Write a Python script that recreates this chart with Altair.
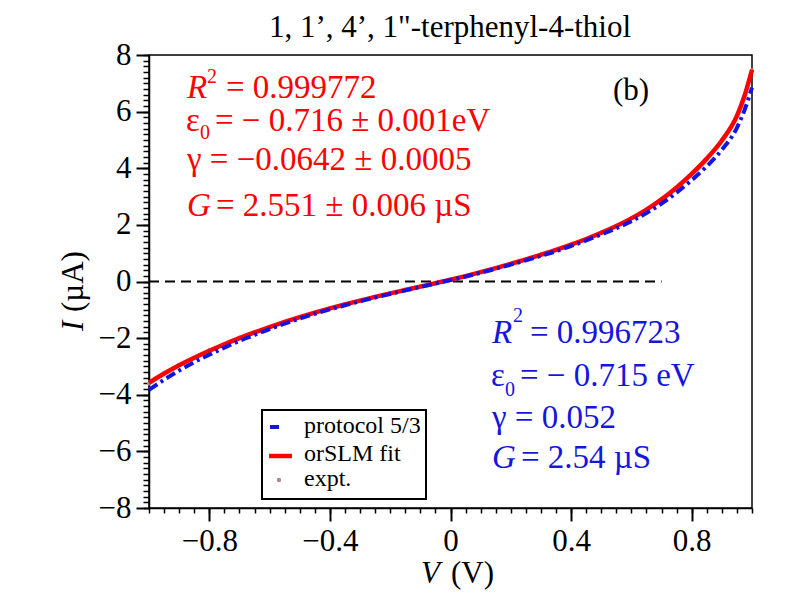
import altair as alt
import pandas as pd

FONT = "Liberation Serif"
RED = "#ff0000"
BLUE = "#1515dd"

# ---------------- data ----------------
V = [-1.0, -0.95, -0.9, -0.85, -0.8, -0.75, -0.7, -0.65, -0.6, -0.55, -0.5,
     -0.45, -0.4, -0.35, -0.3, -0.25, -0.2, -0.15, -0.1, -0.05, 0.0,
     0.05, 0.1, 0.15, 0.2, 0.25, 0.3, 0.35, 0.4, 0.45, 0.5,
     0.55, 0.6, 0.65, 0.7, 0.75, 0.8, 0.85, 0.9, 0.95, 0.975, 1.0]

I_fit = [-3.58, -3.25, -2.955, -2.69, -2.445, -2.215, -2.00, -1.80, -1.61, -1.43, -1.26,
         -1.10, -0.95, -0.81, -0.675, -0.545, -0.42, -0.30, -0.18, -0.06, 0.06,
         0.19, 0.33, 0.475, 0.625, 0.78, 0.945, 1.115, 1.30, 1.50, 1.72,
         1.96, 2.23, 2.54, 2.90, 3.32, 3.80, 4.34, 4.98, 5.85, 6.55, 7.48]

I_proto = [-3.83, -3.47, -3.145, -2.85, -2.585, -2.335, -2.10, -1.89, -1.68, -1.49, -1.31,
           -1.14, -0.985, -0.84, -0.70, -0.565, -0.44, -0.315, -0.195, -0.07, 0.05,
           0.175, 0.31, 0.45, 0.595, 0.745, 0.905, 1.07, 1.255, 1.45, 1.66,
           1.88, 2.13, 2.42, 2.75, 3.14, 3.58, 4.07, 4.65, 5.43, 6.05, 6.85]

I_expt = [-3.60, -3.26, -2.94, -2.70, -2.43, -2.22, -1.98, -1.81, -1.60, -1.44, -1.25,
          -1.11, -0.94, -0.82, -0.67, -0.55, -0.41, -0.31, -0.17, -0.07, 0.07,
          0.18, 0.34, 0.47, 0.63, 0.77, 0.95, 1.11, 1.31, 1.49, 1.73,
          1.95, 2.24, 2.53, 2.91, 3.31, 3.81, 4.33, 4.99, 5.84, 6.53, 7.46]

zero_v = [-1.0, 0.7]
zero_i = [0.0, 0.0]

x_major = [-0.8, -0.4, 0.0, 0.4, 0.8]
x_minor = [round(-1.0 + 0.05 * k, 2) for k in range(41)]
y_major = [-8, -6, -4, -2, 0, 2, 4, 6, 8]
y_minor = [round(-8.0 + 0.2 * k, 1) for k in range(81)]

title_text = "1, 1\u2019, 4\u2019, 1\"-terphenyl-4-thiol"

df = pd.DataFrame({"V": V, "fit": I_fit, "proto": I_proto, "expt": I_expt})
zdf = pd.DataFrame({"V": zero_v, "I": zero_i})

W, H = 603, 453
xs = alt.Scale(domain=[-1, 1], nice=False, zero=False)
ys = alt.Scale(domain=[-8, 8], nice=False, zero=False)

major_x_axis = alt.Axis(values=x_major, orient="bottom", title=None, grid=False,
                        labelExpr="datum.value == 0 ? '0' : format(datum.value, '.1f')",
                        tickSize=13, tickWidth=2, labelPadding=5)
major_y_axis = alt.Axis(values=y_major, orient="left", title=None, grid=False, format="d",
                        tickSize=13, tickWidth=2, labelPadding=5)
minor_x_axis = alt.Axis(values=x_minor, orient="bottom", title=None, grid=False,
                        labels=False, domain=False, tickSize=5, tickWidth=1.5)
minor_y_axis = alt.Axis(values=y_minor, orient="left", title=None, grid=False,
                        labels=False, domain=False, tickSize=6, tickWidth=1.5)

base = alt.Chart(df)

zero_line = alt.Chart(zdf).mark_line(color="black", strokeWidth=2, strokeDash=[10, 6]).encode(
    x=alt.X("V:Q", scale=xs, axis=None), y=alt.Y("I:Q", scale=ys, axis=None))

expt_pts = base.mark_point(filled=True, size=16, color="#b08c8c", opacity=1).encode(
    x=alt.X("V:Q", scale=xs, axis=None), y=alt.Y("expt:Q", scale=ys, axis=None))

fit_line = base.mark_line(color=RED, strokeWidth=4.5, interpolate="monotone").encode(
    x=alt.X("V:Q", scale=xs, axis=major_x_axis), y=alt.Y("fit:Q", scale=ys, axis=major_y_axis))

proto_line = base.mark_line(color=BLUE, strokeWidth=4, strokeDash=[10, 4, 3, 4],
                            interpolate="monotone").encode(
    x=alt.X("V:Q", scale=xs, axis=None), y=alt.Y("proto:Q", scale=ys, axis=None))

minor_layer = base.mark_line(opacity=0).encode(
    x=alt.X("V:Q", scale=xs, axis=minor_x_axis), y=alt.Y("fit:Q", scale=ys, axis=minor_y_axis))


def txt(s, x, y, size, color="black", style="normal", angle=0, align="left"):
    return alt.Chart(pd.DataFrame({"t": [s]})).mark_text(
        align=align, baseline="alphabetic", font=FONT, fontSize=size,
        fontStyle=style, color=color, angle=angle
    ).encode(x=alt.value(x), y=alt.value(y), text="t:N")


AS = 33
SS = 20
texts = [
    # title
    txt(title_text, 301, -18, 31, align="center"),
    # red fit parameters
    txt("R", 38, 43, AS, RED, "italic"),
    txt("2", 58, 28, SS, RED),
    txt("= 0.999772", 77, 43, AS, RED),
    txt("\u03b5", 37, 76, AS, RED),
    txt("0", 51, 84, SS, RED),
    txt("= \u2212 0.716 \u00b1 0.001eV", 66, 76, AS, RED),
    txt("\u03b3 = \u22120.0642 \u00b1 0.0005", 38, 115, AS, RED),
    txt("G", 38, 161, AS, RED, "italic"),
    txt("= 2.551 \u00b1 0.006 \u00b5S", 67, 161, AS, RED),
    # blue protocol parameters
    txt("R", 343, 288, AS, BLUE, "italic"),
    txt("2", 364, 267, SS, BLUE),
    txt("= 0.996723", 381, 288, AS, BLUE),
    txt("\u03b5", 342, 331, AS, BLUE),
    txt("0", 356, 341, SS, BLUE),
    txt("= \u2212 0.715 eV", 371, 331, AS, BLUE),
    txt("\u03b3 = 0.052", 343, 373, AS, BLUE),
    txt("G", 343, 413, AS, BLUE, "italic"),
    txt("= 2.54 \u00b5S", 372, 413, AS, BLUE),
    # panel tag
    txt("(b)", 464, 45, 31),
    # axis titles
    txt("V", 272, 528, 31, "black", "italic"),
    txt("(V)", 302, 528, 31),
    txt("I", -66, 276, 31, "black", "italic", 270),
    txt("(\u00b5A)", -66, 257, 31, "black", "normal", 270),
    # legend texts
    txt("protocol 5/3", 155, 378, 24),
    txt("orSLM fit", 155, 406, 24),
    txt("expt.", 155, 431, 24),
]

one = pd.DataFrame({"k": [0]})
legend_box = alt.Chart(one).mark_rect(fill="white", stroke="black", strokeWidth=2).encode(
    x=alt.value(113), x2=alt.value(277), y=alt.value(355), y2=alt.value(444))
leg_blue = alt.Chart(one).mark_rule(color=BLUE, strokeWidth=4).encode(
    x=alt.value(121), x2=alt.value(130), y=alt.value(372))
leg_red = alt.Chart(one).mark_rule(color=RED, strokeWidth=4.5).encode(
    x=alt.value(120), x2=alt.value(143), y=alt.value(401))
leg_dot = alt.Chart(one).mark_point(filled=True, size=20, color="#b08c8c", opacity=1).encode(
    x=alt.value(130), y=alt.value(425))

chart = alt.layer(
    minor_layer, zero_line, expt_pts, fit_line, proto_line,
    legend_box, leg_blue, leg_red, leg_dot, *texts
).resolve_axis(x="independent", y="independent").properties(
    width=W, height=H,
    autosize=alt.AutoSizeParams(type="none"),
    padding={"left": 141, "top": 47, "right": 32, "bottom": 88},
).configure_axis(
    labelFont=FONT, labelFontSize=31, labelColor="black",
    domainColor="black", domainWidth=1.5, tickColor="black"
).configure_view(stroke="black", strokeWidth=1.5)

chart.save("out.html", embed_options={"renderer": "svg", "actions": False})
